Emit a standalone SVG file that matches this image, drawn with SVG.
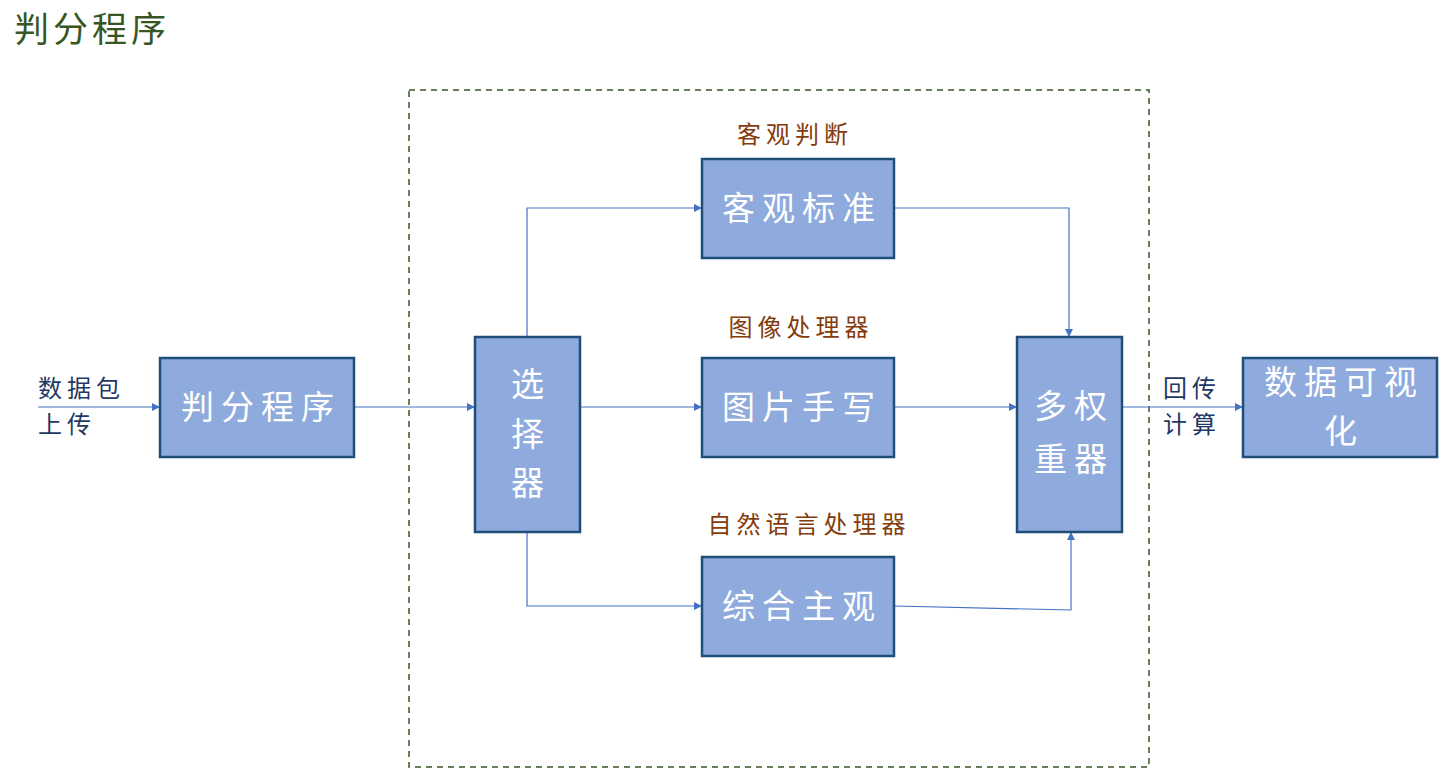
<svg xmlns="http://www.w3.org/2000/svg" width="1439" height="769" viewBox="0 0 1439 769">
<style>
.box{fill:#8FAADC;stroke:#1F4E79;stroke-width:2.5}
.bt{font-family:"Noto Sans CJK SC","Noto Sans",sans-serif;font-size:33px;fill:#fff;text-anchor:middle;letter-spacing:7px}
.lb{font-family:"Noto Sans CJK SC","Noto Sans",sans-serif;font-size:24px;fill:#843C0C;text-anchor:middle;letter-spacing:5px}
.io{font-family:"Noto Sans CJK SC","Noto Sans",sans-serif;font-size:24px;fill:#1F3864;letter-spacing:5px}
.c{fill:none;stroke:#4472C4;stroke-width:1.2}
</style>
<defs>
<marker id="ah" viewBox="0 0 10 10" refX="10" refY="5" markerWidth="8" markerHeight="8" markerUnits="userSpaceOnUse" orient="auto">
<path d="M0,0 L10,5 L0,10 z" fill="#4472C4"/>
</marker>
</defs>
<rect width="1439" height="769" fill="#fff"/>
<text x="14" y="42" font-family="Noto Sans CJK SC, sans-serif" font-size="35" fill="#375623" letter-spacing="4">判分程序</text>
<rect x="409" y="90" width="740" height="677" fill="none" stroke="#375623" stroke-width="1.5" stroke-dasharray="6,5"/>
<g id="connectors">
<path class="c" d="M38,407 H160" marker-end="url(#ah)"/>
<path class="c" d="M354,407 H475" marker-end="url(#ah)"/>
<path class="c" d="M580,407 H702" marker-end="url(#ah)"/>
<path class="c" d="M527,337 V208 H702" marker-end="url(#ah)"/>
<path class="c" d="M527,532 V606 H702" marker-end="url(#ah)"/>
<path class="c" d="M894,208 H1069 V337" marker-end="url(#ah)"/>
<path class="c" d="M894,407 H1017" marker-end="url(#ah)"/>
<path class="c" d="M894,606 L1071,610 V532" marker-end="url(#ah)"/>
<path class="c" d="M1122,407 H1243" marker-end="url(#ah)"/>
</g>
<g id="in-label"><text class="io" x="38" y="397">数据包</text><text class="io" x="38" y="433">上传</text></g>
<g id="out-label"><text class="io" x="1163" y="397">回传</text><text class="io" x="1163" y="433">计算</text></g>
<g id="n-judge"><rect class="box" x="160" y="358" width="194" height="99"/><text class="bt" x="261" y="419">判分程序</text></g>
<g id="n-select"><rect class="box" x="475" y="337" width="105" height="195"/><text class="bt" x="531" y="396">选</text><text class="bt" x="531" y="446">择</text><text class="bt" x="531" y="495">器</text></g>
<g id="n-obj"><text class="lb" x="795" y="143">客观判断</text><rect class="box" x="702" y="159" width="192" height="99"/><text class="bt" x="802" y="220">客观标准</text></g>
<g id="n-img"><text class="lb" x="801" y="336">图像处理器</text><rect class="box" x="702" y="358" width="192" height="99"/><text class="bt" x="802" y="419">图片手写</text></g>
<g id="n-nlp"><text class="lb" x="809" y="533">自然语言处理器</text><rect class="box" x="702" y="557" width="192" height="99"/><text class="bt" x="802" y="618">综合主观</text></g>
<g id="n-weight"><rect class="box" x="1017" y="337" width="105" height="195"/><text class="bt" x="1074" y="418">多权</text><text class="bt" x="1074" y="471">重器</text></g>
<g id="n-vis"><rect class="box" x="1243" y="358" width="194" height="99"/><text class="bt" x="1344" y="394">数据可视</text><text class="bt" x="1344" y="443">化</text></g>
</svg>
